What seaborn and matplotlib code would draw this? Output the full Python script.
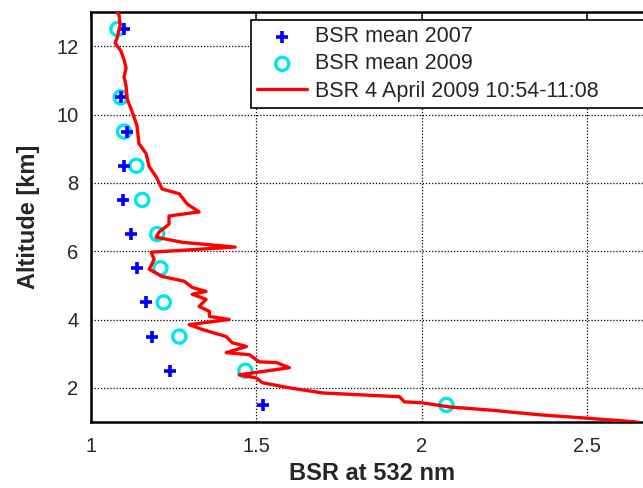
import matplotlib
matplotlib.use("Agg")
import matplotlib.pyplot as plt
import seaborn as sns
import numpy as np
import pandas as pd

# ---- data ----
alt_mean = [12.5, 10.5, 9.5, 8.5, 7.5, 6.5, 5.5, 4.5, 3.5, 2.5, 1.5]
bsr_2007 = [1.10, 1.09, 1.11, 1.10, 1.097, 1.12, 1.14, 1.165, 1.185, 1.24, 1.52]
bsr_2009 = [1.08, 1.09, 1.10, 1.137, 1.155, 1.20, 1.21, 1.22, 1.267, 1.467, 2.075]

profile_bsr = [1.079, 1.085, 1.088, 1.079, 1.073, 1.091, 1.100, 1.106, 1.100, 1.106,
               1.109, 1.124, 1.139, 1.145, 1.167, 1.176, 1.197, 1.215, 1.267, 1.291,
               1.327, 1.236, 1.236, 1.206, 1.197, 1.276, 1.436, 1.182, 1.191, 1.176,
               1.215, 1.282, 1.306, 1.348, 1.306, 1.348, 1.327, 1.358, 1.358, 1.418,
               1.297, 1.336, 1.409, 1.427, 1.470, 1.409, 1.479, 1.509, 1.561, 1.600,
               1.448, 1.500, 1.518, 1.600, 1.700, 1.933, 1.948, 2.003, 2.085, 2.206,
               2.358, 2.488, 2.652]
profile_alt = [13.0, 12.91, 12.62, 12.24, 12.09, 11.85, 11.6, 11.35, 11.1, 10.85,
               10.47, 10.09, 9.68, 9.15, 8.85, 8.47, 8.18, 7.82, 7.68, 7.38,
               7.15, 7.03, 6.79, 6.56, 6.41, 6.26, 6.12, 5.97, 5.76, 5.47,
               5.26, 5.12, 4.94, 4.82, 4.74, 4.59, 4.38, 4.24, 4.09, 4.00,
               3.85, 3.71, 3.50, 3.32, 3.21, 3.03, 2.97, 2.76, 2.74, 2.59,
               2.38, 2.29, 2.15, 2.00, 1.85, 1.74, 1.59, 1.56, 1.44, 1.35,
               1.21, 1.12, 1.00]

x_ticks = [1, 1.5, 2, 2.5]
x_ticklabels = ["1", "1.5", "2", "2.5"]
y_ticks = [2, 4, 6, 8, 10, 12]
y_ticklabels = ["2", "4", "6", "8", "10", "12"]

label_2007 = "BSR mean 2007"
label_2009 = "BSR mean 2009"
label_prof = "BSR 4 April 2009 10:54-11:08"

# ---- plot ----
sns.set_style("white")
plt.rcParams["font.family"] = ["Liberation Sans", "DejaVu Sans"]

fig = plt.figure(figsize=(6.43, 4.88), dpi=100)
ax = fig.add_axes([91 / 643, 1 - 422 / 488, (653 - 91) / 643, (422 - 12) / 488])

df07 = pd.DataFrame({"bsr": bsr_2007, "alt": alt_mean})
df09 = pd.DataFrame({"bsr": bsr_2009, "alt": alt_mean})
dfp = pd.DataFrame({"bsr": profile_bsr, "alt": profile_alt})

sns.scatterplot(data=df07, x="bsr", y="alt", ax=ax, marker="+", s=70,
                color="#0000ff", linewidth=2.6, label=label_2007, zorder=4)
sns.scatterplot(data=df09, x="bsr", y="alt", ax=ax, marker="o", s=90,
                facecolor="none", edgecolor="#00e5ee", linewidth=2.4,
                label=label_2009, zorder=3)
sns.lineplot(data=dfp, x="bsr", y="alt", ax=ax, orient="y", sort=False,
             estimator=None, color="#ff0000", linewidth=2.4, label=label_prof, zorder=5)

ax.set_xlim(1, 2.7)
ax.set_ylim(1, 13)
ax.set_xticks(x_ticks)
ax.set_xticklabels(x_ticklabels)
ax.set_yticks(y_ticks)
ax.set_yticklabels(y_ticklabels)
ax.tick_params(axis="both", direction="in", length=5, width=1.2, labelsize=14.5,
               top=True, right=True)
ax.tick_params(axis="x", pad=11)
ax.tick_params(axis="y", pad=9)
ax.grid(True, color="black", linestyle=(0, (1, 1.5)), linewidth=0.9)
for s in ax.spines.values():
    s.set_color("black")
    s.set_linewidth(1.8)

ax.set_xlabel("BSR at 532 nm", fontsize=17, fontweight="bold", labelpad=4)
ax.set_ylabel("Altitude [km]", fontsize=17, fontweight="bold", labelpad=12)

leg = ax.legend(loc="upper left",
                bbox_to_anchor=(251 / 643, 1 - 109 / 488, (680 - 251) / 643, 89 / 488),
                bbox_transform=fig.transFigure, mode="expand", fontsize=15.5,
                frameon=True, fancybox=False, edgecolor="black", framealpha=1,
                borderpad=0.3, labelspacing=0.28, handlelength=2.3,
                handletextpad=0.35, borderaxespad=0)
leg.get_frame().set_linewidth(1.2)

fig.savefig("out.png", dpi=100)
